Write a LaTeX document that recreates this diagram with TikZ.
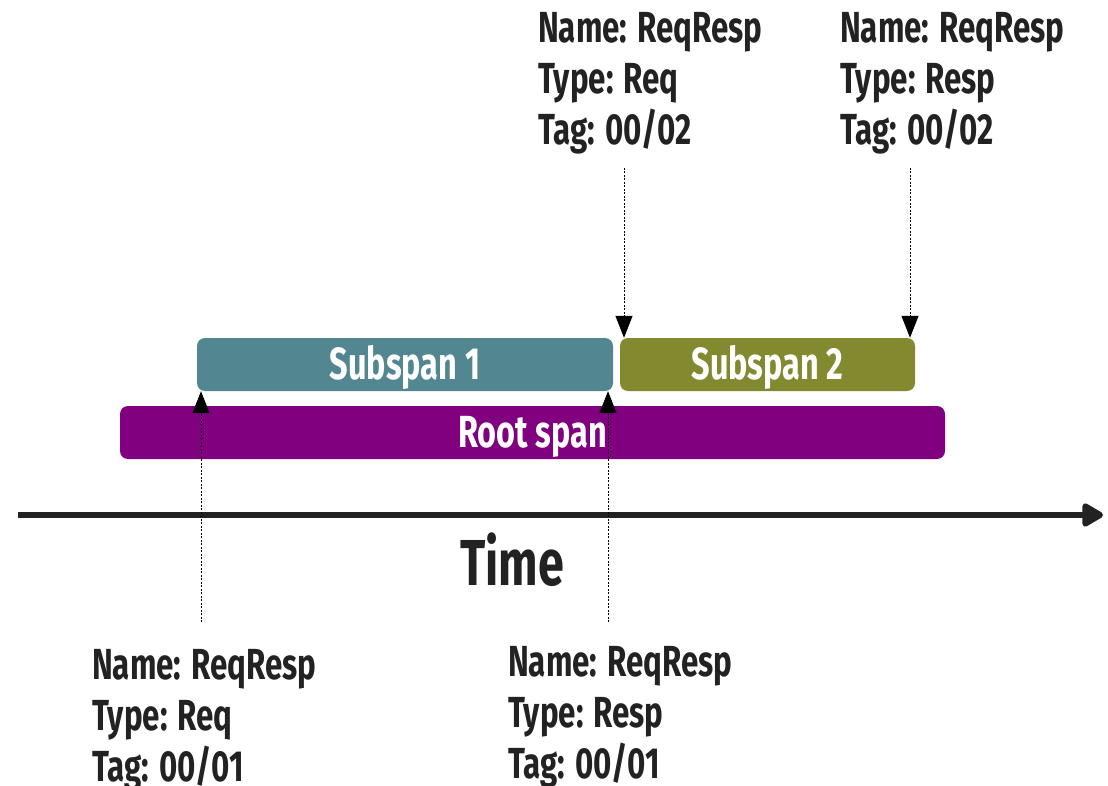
\documentclass[tikz,border=0pt]{standalone}
\usepackage{fontspec}
\setmainfont{Fira Sans}[FakeStretch=0.72]
\usetikzlibrary{arrows.meta}
\definecolor{subone}{HTML}{528792}
\definecolor{subtwo}{HTML}{83892F}
\definecolor{rootc}{HTML}{800080}
\definecolor{ink}{HTML}{222222}
\tikzset{
  span/.style={rounded corners=8pt, inner sep=0pt, text=white,
    text height=30pt, text depth=0pt,
    font=\fontsize{45}{50}\selectfont\bfseries},
  tagtext/.style={anchor=base west, inner sep=0pt, align=left, text=ink,
    font=\fontsize{43.5}{51}\selectfont\bfseries},
  ptr/.style={line width=1pt, dash pattern=on 2pt off 1.5pt,
    -{Triangle[width=17pt,length=22pt]}},
  axis/.style={line width=6pt, color=ink,
    -{Triangle[width=26pt,length=24pt,round]}}
}
\begin{document}
\begin{tikzpicture}[x=1pt,y=-1pt]
\useasboundingbox (0,0) rectangle (1108,786);

% spans
\node[span, fill=subone, minimum width=416pt, minimum height=53pt] (s1) at (405,364.5) {Subspan 1};
\node[span, fill=subtwo, minimum width=295pt, minimum height=53pt] (s2) at (767.5,364.5) {Subspan 2};
\node[span, fill=rootc, minimum width=825pt, minimum height=53pt] (root) at (532.5,432.5) {Root span};

% time axis
\coordinate (t0) at (18,515);
\coordinate (t1) at (1103,515);
\draw[axis] (t0) -- (t1);
\node[anchor=base, inner sep=0pt, text=ink, font=\fontsize{65}{70}\selectfont\bfseries] (time) at (512,585) {Time};

% event tags (anchored at the baseline of their last line)
\node[tagtext] (tagA) at (538,145) {Name: ReqResp\\Type: Req\\Tag: 00/02};
\node[tagtext] (tagB) at (840,145) {Name: ReqResp\\Type: Resp\\Tag: 00/02};
\node[tagtext] (tagC) at (92,781) {Name: ReqResp\\Type: Req\\Tag: 00/01};
\node[tagtext] (tagD) at (508,778) {Name: ReqResp\\Type: Resp\\Tag: 00/01};

% pointers from tags to span edges
\coordinate (pA) at (624,168);
\coordinate (pB) at (910,168);
\coordinate (pC) at (201,622);
\coordinate (pD) at (608,622);
\draw[ptr] (pA) -- (pA |- s2.north);
\draw[ptr] (pB) -- (pB |- s2.north);
\draw[ptr] (pC) -- (pC |- s1.south);
\draw[ptr] (pD) -- (pD |- s1.south);
\end{tikzpicture}
\end{document}
